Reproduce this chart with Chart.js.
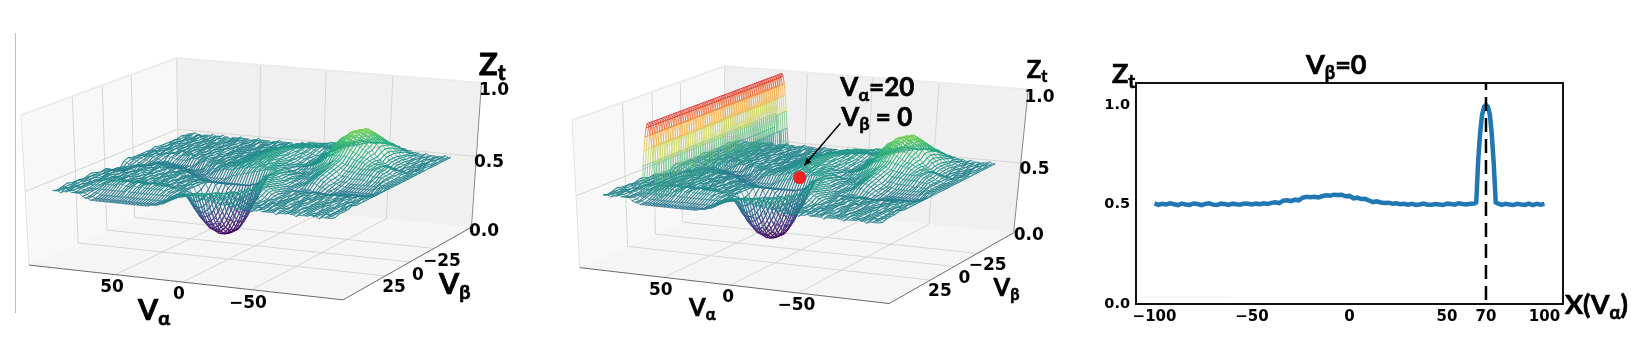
<!doctype html>
<html><head><meta charset="utf-8">
<style>html,body{margin:0;background:#fff;overflow:hidden}canvas{position:absolute;top:0}</style>
<script src="https://cdn.jsdelivr.net/npm/chart.js@4"></script>
</head><body>
<canvas id="c1" width="545" height="361" style="left:0;width:545px;height:361px"></canvas>
<canvas id="c2" width="540" height="361" style="left:545px;width:540px;height:361px"></canvas>
<canvas id="c3" width="546" height="361" style="left:1085px;width:546px;height:361px"></canvas>
<script>
// ---- data ----
const alphaGrid=[100,98,96,94,92,90,88,86,84,82,80,78,76,74,72,70,68,66,64,62,60,58,56,54,52,50,48,46,44,42,40,38,36,34,32,30,28,26,24,22,20,18,16,14,12,10,8,6,4,2,0,-2,-4,-6,-8,-10,-12,-14,-16,-18,-20,-22,-24,-26,-28,-30,-32,-34,-36,-38,-40,-42,-44,-46,-48,-50,-52,-54,-56,-58,-60,-62,-64,-66,-68,-70,-72,-74,-76,-78,-80,-82,-84,-86,-88,-90,-92,-94,-96,-98,-100];
const betaGrid=[-60,-56,-52,-48,-44,-40,-36,-32,-28,-24,-20,-16,-12,-8,-4,0,4,8,12,16,20,24,28,32,36,40,44,48,52,56,60];
const surfacePercent=[
[50,50,51,50,50,49,50,50,50,51, 50,50,50,51,50,50,49,50,50,50, 51,50,50,50,49,50,50,51,50,50, 50,50,49,50,50,51,50,50,50,50, 50,49,50,50,51,50,50,50,49,50, 50,50,51,50,50,50,49,50,50,51, 50,51,51,52,52,53,53,54,54,55, 55,55,55,56,56,56,56,55,55,55, 54,54,53,53,52,52,51,51,51,50, 50,51,50,50,50,49,50,50,51,50, 50],
[50,50,50,49,50,51,50,50,50,49, 50,50,51,50,50,50,50,49,50,50, 50,51,50,50,50,49,50,50,51,50, 50,50,50,49,50,50,51,50,50,50, 51,50,50,49,50,50,50,51,50,50, 50,50,50,51,50,50,50,51,51,52, 53,53,54,54,55,55,56,56,57,57, 57,57,57,57,57,57,57,57,57,57, 56,56,55,54,54,53,52,52,51,51, 50,51,50,50,49,50,51,50,50,50, 50],
[51,50,50,50,49,50,50,51,50,50, 50,49,50,50,51,50,50,50,49,50, 50,50,51,50,50,50,50,49,50,50, 51,50,50,50,50,49,50,50,51,50, 50,50,51,50,50,50,50,50,51,51, 52,52,53,53,54,54,55,55,56,56, 56,56,57,57,57,57,58,58,59,59, 59,60,60,61,61,61,61,61,60,60, 59,59,58,57,56,55,54,53,52,52, 51,50,51,50,50,49,50,50,51,50, 50],
[50,50,49,50,50,51,50,50,50,49, 50,50,51,50,50,49,50,50,50,51, 50,50,50,50,49,50,51,50,50,50, 50,49,50,50,51,50,50,50,50,50, 50,51,51,52,52,53,54,54,55,55, 55,56,56,56,56,56,56,56,56,55, 55,55,55,55,55,56,56,58,59,60, 62,63,64,64,65,65,65,64,64,63, 62,61,60,59,57,56,55,53,53,52, 51,51,50,50,50,49,50,51,50,50, 50],
[50,51,50,50,50,49,50,50,51,50, 50,50,49,50,50,50,51,50,50,49, 50,50,50,51,50,50,49,50,50,50, 50,50,49,50,50,51,50,50,50,51, 51,51,52,52,53,54,54,55,55,56, 56,56,56,56,56,56,55,55,54,54, 54,53,53,54,55,56,58,60,62,64, 65,66,67,67,68,68,68,67,67,66, 65,64,62,61,59,57,56,54,53,52, 51,51,50,50,49,50,50,51,50,50, 50],
[50,50,50,51,50,50,49,50,50,50, 51,50,50,50,49,50,50,50,51,50, 50,50,49,50,50,50,51,50,50,50, 50,50,50,51,50,50,50,51,51,51, 52,52,53,54,54,55,55,56,56,56, 56,56,56,56,55,55,54,54,53,52, 53,53,54,55,57,58,60,62,64,66, 67,69,70,71,71,72,72,71,70,69, 67,66,64,62,60,58,57,55,54,53, 52,51,51,50,50,49,50,50,51,50, 50],
[50,49,50,50,51,50,50,50,49,50, 50,51,50,50,50,49,50,50,50,51, 50,50,50,50,51,50,49,50,50,50, 50,50,51,50,50,50,51,51,51,52, 52,53,54,54,55,55,56,56,56,56, 56,56,55,55,54,54,53,53,52,52, 52,53,54,55,57,59,61,63,65,67, 68,70,71,71,72,72,72,72,71,70, 68,67,65,63,61,59,57,55,54,53, 52,51,51,50,50,50,49,50,50,51, 50],
[50,50,50,49,50,50,51,50,50,50, 49,50,50,51,50,50,50,50,49,50, 50,51,50,50,50,50,49,50,50,51, 50,50,50,51,50,50,50,51,51,52, 52,53,54,55,55,56,56,56,56,56, 56,56,55,55,54,54,53,52,52,51, 51,52,53,54,56,58,60,63,65,67, 68,69,71,71,72,72,72,71,71,69, 68,66,65,63,60,58,57,55,54,53, 52,51,50,51,50,50,50,49,50,50, 50],
[51,50,50,50,49,50,50,50,51,50, 50,50,49,50,50,51,50,50,50,50, 49,50,50,51,50,50,50,49,50,50, 51,50,50,50,50,50,51,51,52,52, 53,53,54,55,55,56,56,56,56,56, 56,55,55,54,54,53,53,52,52,51, 51,51,52,53,55,56,58,60,62,64, 65,67,68,69,70,70,70,69,69,67, 66,64,62,60,58,56,55,54,53,52, 51,51,50,50,50,49,50,50,51,50, 50],
[50,50,49,50,50,50,51,50,50,49, 50,50,51,50,50,50,50,49,50,50, 50,50,51,50,50,49,50,50,50,51, 50,50,50,50,51,50,50,51,51,52, 53,53,54,55,55,56,56,56,56,56, 56,55,55,54,53,53,52,51,51,50, 51,51,51,52,53,55,56,58,60,62, 63,64,65,66,67,68,68,67,66,65, 64,63,62,60,58,57,56,55,54,54, 53,53,52,52,51,51,50,50,50,50, 50],
[50,50,50,51,50,49,50,50,50,50, 51,50,50,49,50,50,50,51,50,50, 49,50,50,50,51,50,50,50,49,50, 50,51,50,50,50,50,51,51,51,52, 52,53,54,54,55,55,56,56,56,56, 56,56,55,54,53,53,52,51,51,51, 50,50,51,51,52,53,54,56,57,59, 60,61,62,63,64,65,65,64,63,62, 61,60,60,59,58,57,56,56,55,55, 55,55,54,53,52,51,51,50,50,50, 50],
[50,49,50,50,50,51,50,50,50,49, 50,49,49,48,48,48,48,48,49,50, 50,50,49,50,50,51,50,50,50,50, 50,50,50,51,50,50,50,51,51,52, 52,53,54,54,55,55,55,56,56,56, 56,56,55,55,54,53,52,52,51,51, 51,52,52,53,54,55,56,57,58,59, 60,60,61,61,61,61,61,61,60,60, 59,59,58,58,57,56,56,55,55,55, 54,54,53,52,51,51,50,50,50,50, 50],
[50,50,51,50,50,50,50,49,49,48, 47,46,46,46,46,46,46,46,46,46, 46,46,47,48,49,50,51,50,50,50, 50,50,50,50,50,51,51,51,51,52, 52,53,53,54,54,55,55,55,56,56, 56,56,56,55,55,54,54,53,52,52, 50,51,51,51,52,52,52,53,54,55, 56,57,57,58,59,59,59,58,57,57, 56,56,56,55,55,55,55,55,55,55, 54,54,53,52,51,51,50,50,50,50, 50],
[50,50,50,50,49,49,48,48,48,48, 48,47,46,45,45,45,45,45,45,45, 46,45,45,45,45,46,46,47,49,49, 50,50,51,50,50,50,51,51,51,52, 52,53,53,54,54,54,55,55,55,55, 55,56,56,55,55,55,54,54,53,52, 51,51,50,50,50,51,51,51,52,53, 54,55,56,57,58,58,58,57,56,55, 54,54,54,54,53,53,53,53,53,53, 52,52,52,52,51,51,50,50,50,50, 50],
[51,50,50,49,48,48,47,47,47,47, 48,49,50,50,51,51,50,50,49,49, 47,47,47,46,46,46,46,46,46,47, 47,48,49,49,50,50,51,51,51,52, 52,52,53,53,53,54,54,54,55,55, 55,55,55,56,55,55,55,55,54,54, 53,52,52,51,51,50,51,51,51,52, 52,53,54,55,56,57,57,56,55,53, 52,52,52,51,51,51,51,51,51,50, 50,51,50,50,50,51,50,50,50,50, 50],
[50,49,48,48,47,47,47,47,48,49, 50,50,51,50,50,50,50,49,49,50, 50,50,50,49,47,46,46,46,46,46, 46,46,47,47,48,49,50,50,51,51, 51,51,52,52,53,53,53,54,54,54, 54,55,55,55,55,55,55,55,55,54, 54,53,53,52,52,51,51,51,51,51, 51,52,53,54,55,56,56,55,54,52, 51,50,50,50,49,49,49,49,49,49, 49,49,49,49,49,50,50,50,50,50, 50],
[46,46,46,46,47,48,49,50,50,50, 50,50,49,49,50,50,51,50,50,50, 50,50,50,49,49,49,49,48,46,46, 46,46,46,46,46,46,46,46,46,46, 46,47,48,49,49,50,50,51,51,52, 52,53,53,54,54,55,55,55,55,55, 55,54,54,53,53,52,51,51,51,51, 51,51,52,53,54,55,55,54,53,52, 50,50,49,49,48,48,48,48,48,48, 48,48,48,48,48,49,49,50,50,50, 50],
[46,46,46,46,47,48,50,50,50,51, 51,50,50,50,49,50,50,51,50,50, 51,50,50,49,49,50,50,50,50,50, 49,48,46,45,45,45,45,45,45,45, 45,45,45,45,45,45,45,45,45,45, 45,45,46,46,47,48,50,51,53,54, 55,55,55,54,53,52,52,51,51,50, 50,50,51,52,53,54,54,53,52,51, 50,49,48,48,47,47,47,47,47,47, 47,47,47,47,47,47,47,48,49,49, 50],
[48,48,49,50,50,51,51,50,50,49, 49,50,50,50,50,49,50,51,50,50, 49,49,50,50,51,50,50,50,50,49, 49,49,50,49,48,47,46,46,46,46, 46,46,46,46,46,46,46,46,46,46, 46,46,46,47,47,48,49,51,52,54, 55,55,55,54,53,52,52,51,51,50, 50,50,50,51,52,52,52,51,50,50, 49,48,48,47,47,47,47,47,47,47, 47,47,47,47,47,47,48,48,48,49, 50],
[50,50,49,50,50,51,50,50,50,49, 50,50,50,51,50,50,49,50,50,51, 50,50,50,50,49,50,50,50,51,50, 50,50,49,50,50,49,50,50,50,49, 48,48,48,48,48,47,45,43,41,39, 38,39,40,41,42,44,47,50,52,55, 56,56,55,55,54,53,52,51,50,50, 50,50,50,49,49,49,49,48,48,48, 48,47,47,47,47,47,47,47,47,47, 47,48,48,48,48,48,48,48,49,49, 50],
[49,50,50,50,51,50,50,49,50,50, 50,51,50,50,50,49,50,50,51,50, 50,50,49,50,50,51,50,50,50,49, 50,50,51,50,50,50,49,50,50,50, 50,50,50,48,44,41,39,36,35,33, 32,32,31,32,33,35,38,40,44,46, 50,54,56,55,55,54,53,52,51,50, 50,50,49,49,49,49,49,49,49,49, 49,49,49,49,48,49,49,49,49,50, 50,50,50,50,49,50,50,50,50,50, 50],
[50,50,49,50,50,50,51,50,50,49, 50,50,50,51,50,50,50,49,50,50, 51,50,50,50,50,49,50,50,51,50, 50,50,49,50,50,50,50,51,50,50, 50,50,46,42,38,36,33,31,29,27, 27,26,26,26,27,28,31,34,37,41, 43,48,52,56,55,55,54,53,52,51, 50,50,50,51,50,50,49,50,50,50, 51,50,50,50,49,50,50,50,51,50, 50,49,50,50,50,50,51,50,50,50, 50],
[51,50,50,50,49,50,50,51,50,50, 50,49,50,50,51,50,50,50,49,50, 50,50,51,50,50,50,49,50,50,50, 51,50,50,50,50,49,50,50,50,51, 50,47,42,38,35,32,29,27,25,24, 23,22,22,22,23,24,26,29,32,36, 40,43,48,53,56,55,55,54,53,52, 51,50,50,50,49,50,50,51,50,50, 50,50,49,50,50,50,51,50,50,49, 50,50,50,51,50,50,49,50,50,51, 50],
[50,50,51,50,50,49,50,50,50,51, 51,51,52,51,51,50,50,50,51,50, 50,50,50,50,49,50,50,50,51,50, 50,50,50,49,50,50,50,50,51,50, 50,46,41,37,34,31,28,26,24,23, 22,21,21,21,22,23,24,27,30,34, 38,42,46,52,56,56,55,55,54,53, 52,51,50,50,50,50,49,50,50,51, 50,50,50,49,50,50,50,51,50,50, 49,50,50,50,51,50,50,50,50,50, 50],
[49,50,50,50,51,50,50,50,50,51, 51,51,51,51,52,52,51,51,52,51, 51,51,51,52,51,51,51,52,51,51, 52,51,51,51,50,50,50,50,50,50, 50,47,42,38,35,32,29,27,25,24, 23,22,22,22,23,24,25,28,31,35, 39,43,47,53,56,56,55,55,54,53, 52,51,50,50,50,49,50,50,50,50, 49,50,50,51,50,50,49,50,50,50, 50,50,51,50,50,50,50,51,50,50, 50],
[50,51,50,50,49,50,50,51,51,51, 50,51,51,52,52,52,52,53,53,53, 52,52,53,53,52,52,52,53,53,52, 52,52,52,52,52,51,51,50,50,50, 50,50,46,42,38,36,33,31,29,27, 27,26,26,26,27,28,31,34,37,41, 43,48,52,56,55,55,54,53,52,51, 50,50,50,50,49,50,50,50,50,51, 50,50,50,51,50,50,49,50,50,50, 50,51,50,50,49,50,50,50,50,51, 51],
[50,50,50,49,50,50,50,50,50,50, 50,50,51,51,51,51,51,52,52,52, 51,51,51,52,51,51,52,51,51,51, 51,51,51,51,50,51,50,50,50,49, 50,50,50,48,44,41,39,36,35,33, 32,32,31,32,32,35,38,40,44,46, 50,54,56,55,55,54,53,52,51,50, 50,50,51,50,50,49,50,50,50,51, 50,50,50,50,51,50,49,50,50,50, 50,50,51,50,50,50,50,49,50,50, 50],
[51,50,50,50,50,49,50,50,49,49, 49,49,49,49,49,49,49,49,49,49, 49,49,50,49,49,49,49,49,49,49, 49,49,49,49,49,49,49,49,49,49, 50,50,50,50,50,49,47,45,43,41, 40,40,40,41,42,44,47,50,52,55, 56,56,55,55,54,53,52,51,50,50, 50,49,50,50,50,51,50,50,50,50, 50,49,50,50,50,51,50,50,50,50, 50,50,49,50,50,50,50,49,50,50, 50],
[50,50,49,50,50,51,50,50,49,49, 49,49,48,48,47,47,47,47,47,47, 47,47,47,47,47,47,47,47,47,47, 47,47,47,47,47,47,47,47,47,48, 49,50,50,51,51,52,52,53,53,53, 53,53,54,54,55,55,56,56,56,56, 56,55,55,54,53,53,52,51,51,50, 50,50,50,49,50,50,50,51,50,50, 50,50,50,49,50,50,50,51,50,50, 50,50,49,50,50,50,50,49,50,50, 50],
[49,50,50,51,50,50,50,49,49,49, 49,48,47,47,46,46,46,46,46,46, 46,46,46,46,46,46,46,46,46,46, 46,46,46,46,46,46,46,47,47,47, 48,49,50,51,52,53,54,54,55,55, 55,56,56,56,56,56,55,55,55,55, 54,54,53,52,52,51,51,50,50,50, 50,50,50,51,50,50,49,50,50,50, 51,50,50,50,49,50,50,50,50,51, 50,50,50,49,50,50,50,51,50,50, 49],
[50,50,50,49,50,50,51,50,50,50, 50,48,47,47,46,46,46,46,46,46, 46,46,46,46,46,46,46,46,46,46, 46,46,46,46,46,46,47,47,47,48, 50,51,52,53,54,55,55,56,56,56, 56,56,55,55,54,54,54,53,53,53, 53,52,52,52,52,51,51,50,50,50, 50,50,49,50,50,51,50,50,50,50, 50,49,50,50,50,51,50,50,49,50, 50,50,50,51,50,50,49,50,50,50, 50]
];
const ridgeAlpha=[71,70,69,68,67,66,65,64,63,62,61,60,59];
const ridgeHeight=[0.51,0.62,0.72,0.82,0.91,0.97,1.0,0.98,0.93,0.85,0.74,0.62,0.51];
const ridgeBeta=[-60,-58,-56,-54,-52,-50,-48,-46,-44,-42,-40,-38,-36,-34,-32,-30,-28,-26,-24,-22,-20,-18,-16,-14,-12,-10,-8,-6,-4,-2,0,2,4,6,8,10,12,14,16,18,20,22,24,26,28,30,32,34,36,38,40,42,44,46,48,50,52,54,56,58,60];
const sliceAlpha=[-100,-98,-96,-94,-92,-90,-88,-86,-84,-82,-80,-78,-76,-74,-72,-70,-68,-66,-64,-62,-60,-58,-56,-54,-52,-50,-48,-46,-44,-42,-40,-38,-36,-34,-32,-30,-28,-26,-24,-22,-20,-18,-16,-14,-12,-10,-8,-6,-4,-2,0,2,4,6,8,10,12,14,16,18,20,22,24,26,28,30,32,34,36,38,40,42,44,46,48,50,52,54,56,58,60,62,64,65,66,67,68,69,70,71,72,73,74,75,76,78,80,82,84,86,88,90,92,94,96,98,100];
const sliceZ=[0.505,0.498,0.503,0.5,0.506,0.501,0.497,0.504,0.5,0.498,0.505,0.502,0.497,0.503,0.506,0.499,0.497,0.504,0.502,0.498,0.504,0.501,0.499,0.505,0.503,0.5,0.504,0.501,0.506,0.502,0.508,0.511,0.507,0.519,0.521,0.517,0.524,0.521,0.534,0.538,0.536,0.539,0.535,0.541,0.546,0.544,0.549,0.547,0.549,0.541,0.543,0.531,0.534,0.527,0.528,0.52,0.512,0.516,0.51,0.507,0.509,0.504,0.506,0.501,0.503,0.499,0.503,0.498,0.5,0.504,0.499,0.498,0.502,0.5,0.497,0.504,0.502,0.499,0.506,0.502,0.5,0.503,0.505,0.51,0.72,0.86,0.95,0.99,1.0,0.99,0.95,0.85,0.7,0.51,0.505,0.498,0.503,0.5,0.497,0.503,0.5,0.498,0.504,0.497,0.503,0.499,0.503];
const alphaTicks3d=[50,0,-50];
const betaTicks3d=[-25,0,25];
const zTicks3d=[0,0.5,1];
const sliceXTicks=[-100,-50,0,50,70,100];
const sliceYTicks=[0,0.5,1];
const markerPoint={alpha:4,beta:-2,z:0.5};
// ---- camera calibration and styles ----
const boxA=115, boxB=66;
const panel1={xMin:0,xMax:545,corners:{L:[30,265],F:[343,300],R:[472,227],B:[177,198],TL:[20,115],TB:[178,58],TR:[481,83]}};
const panel2={xMin:545,xMax:1085,corners:{L:[575,271],F:[891,308],R:[1019,235],B:[721,204],TL:[565,118],TB:[724,62],TR:[1033,86]}};
const viridisStops=["#440154","#482475","#414487","#355f8d","#2a788e","#21908d","#22a884","#44bf70","#7ad151","#bddf26","#fde725"];
const spectralStops=[[0.5,"#2a8a8c"],[0.6,"#3fa890"],[0.7,"#86c98a"],[0.8,"#d8d65a"],[0.9,"#f5a742"],[1.0,"#e02f2f"]];
const hexRgb=h=>[1,3,5].map(i=>parseInt(h.substr(i,2),16));
const mix=(a,b,t)=>{a=hexRgb(a);b=hexRgb(b);return `rgb(${a.map((v,i)=>Math.round(v+(b[i]-v)*t)).join(",")})`};
function viridis(z){const f=Math.min(1,Math.max(0,(z-0.21)/0.64))*10,i=Math.min(9,Math.floor(f));return mix(viridisStops[i],viridisStops[i+1],f-i)}
function spectral(z){if(z<=0.5)return spectralStops[0][1];for(let i=1;i<spectralStops.length;i++){if(z<=spectralStops[i][0]){const a=spectralStops[i-1],b=spectralStops[i];return mix(a[1],b[1],(z-a[0])/(b[0]-a[0]))}}return spectralStops[5][1]}

function makeProjector(c){
  const cube={L:[1,1,0],F:[-1,1,0],R:[-1,-1,0],B:[1,-1,0],TL:[1,1,1],TB:[1,-1,1],TR:[-1,-1,1]};
  const A=[],b=[];
  for(const k in cube){const [X,Y,Z]=cube[k],u=(c[k][0]-250)/300,v=(c[k][1]-180)/300;
    A.push([X,Y,Z,1,0,0,0,0,-u*X,-u*Y,-u*Z]);b.push(u);
    A.push([0,0,0,0,X,Y,Z,1,-v*X,-v*Y,-v*Z]);b.push(v);}
  const n=11,M=[];
  for(let i=0;i<n;i++){M[i]=[];for(let j=0;j<n;j++){let s=0;for(let r=0;r<A.length;r++)s+=A[r][i]*A[r][j];M[i][j]=s}let s=0;for(let r=0;r<A.length;r++)s+=A[r][i]*b[r];M[i][n]=s}
  for(let i=0;i<n;i++){let p=i;for(let r=i+1;r<n;r++)if(Math.abs(M[r][i])>Math.abs(M[p][i]))p=r;[M[i],M[p]]=[M[p],M[i]];
    for(let r=0;r<n;r++)if(r!==i){const f=M[r][i]/M[i][i];for(let j=i;j<=n;j++)M[r][j]-=f*M[i][j]}}
  const p=M.map((r,i)=>r[n]/r[i]);
  return (a,be,z)=>{const X=a/boxA,Y=be/boxB,Z=z,w=p[8]*X+p[9]*Y+p[10]*Z+1;
    return {x:250+300*(p[0]*X+p[1]*Y+p[2]*Z+p[3])/w,y:180+300*(p[4]*X+p[5]*Y+p[6]*Z+p[7])/w}};
}
const font3d='bold 17px "DejaVu Sans"';
const LATO='Lato, "Noto Sans", sans-serif';
function rich(ctx,x,y,parts,size){
  ctx.textAlign='left';ctx.textBaseline='alphabetic';ctx.fillStyle='#000';ctx.strokeStyle='#000';ctx.lineWidth=size*0.025;
  for(const [t,sub] of parts){const s=sub?size*0.68:size;ctx.font=`bold ${s}px ${LATO}`;const Y=y+(sub?size*0.17:0);ctx.fillText(t,x,Y);ctx.strokeText(t,x,Y);x+=ctx.measureText(t).width}
}
function panelPlugin(project,labels,richLabels,extra){return{id:'panel',
  beforeDatasetsDraw(ch){const g=ch.ctx,sx=ch.scales.x,sy=ch.scales.y;
    const poly=(pts,col)=>{g.beginPath();pts.forEach((q,i)=>{const r=project(...q),X=sx.getPixelForValue(r.x),Y=sy.getPixelForValue(r.y);i?g.lineTo(X,Y):g.moveTo(X,Y)});g.closePath();g.fillStyle=col;g.fill()};
    poly([[boxA,boxB,0],[-boxA,boxB,0],[-boxA,-boxB,0],[boxA,-boxB,0]],'#f5f5f5');
    poly([[boxA,boxB,0],[boxA,-boxB,0],[boxA,-boxB,1],[boxA,boxB,1]],'#f8f8f8');
    poly([[boxA,-boxB,0],[-boxA,-boxB,0],[-boxA,-boxB,1],[boxA,-boxB,1]],'#f0f0f0');
  },
  afterDatasetsDraw(ch){const g=ch.ctx,sx=ch.scales.x,sy=ch.scales.y;g.save();
    g.font=font3d;g.fillStyle='#000';g.textAlign='center';g.textBaseline='middle';
    for(const [t,x,y] of labels)g.fillText(t,sx.getPixelForValue(x),sy.getPixelForValue(y));
    for(const [parts,x,y,s] of richLabels)rich(g,sx.getPixelForValue(x),sy.getPixelForValue(y),parts,s);
    if(extra)extra(g,sx,sy);g.restore();
  }}}
function buildPanel(project,withRidge){
  const ds=[];const line=(pts,col,w)=>ds.push({data:pts,borderColor:col,borderWidth:w,showLine:true,pointRadius:0,clip:false});
  const seg=(pts,colorFn,w)=>{const zs=pts.map(q=>q.z);ds.push({data:pts,borderColor:'#26828e',borderWidth:w,showLine:true,pointRadius:0,clip:false,
    segment:{borderColor:c=>colorFn((zs[c.p0DataIndex]+zs[c.p1DataIndex])/2)}})};
  const P=(a,b,z)=>project(a,b,z);
  const G='#d6d6d6',E='#ececec';
  for(const a of alphaTicks3d){line([P(a,-boxB,0),P(a,boxB,0)],G,1);line([P(a,-boxB,0),P(a,-boxB,1)],G,1)}
  for(const b of betaTicks3d){line([P(-boxA,b,0),P(boxA,b,0)],G,1);line([P(boxA,b,0),P(boxA,b,1)],G,1)}
  line([P(boxA,boxB,0.5),P(boxA,-boxB,0.5),P(-boxA,-boxB,0.5)],G,1);
  line([P(boxA,boxB,1),P(boxA,-boxB,1),P(-boxA,-boxB,1)],E,2);
  line([P(boxA,boxB,0),P(boxA,boxB,1)],'#e2e2e2',1);
  line([P(boxA,-boxB,0),P(boxA,-boxB,1)],'#d8d8d8',1);
  line([P(boxA,boxB,0),P(-boxA,boxB,0),P(-boxA,-boxB,0)],'#6a6a6a',1);
  line([P(-boxA,-boxB,0),P(-boxA,-boxB,1)],'#8a8a8a',1);
  for(const row of betaGrid.keys())seg(alphaGrid.map((a,c)=>({...P(a,betaGrid[row],surfacePercent[row][c]/100),z:surfacePercent[row][c]/100})),viridis,0.7);
  for(const c of alphaGrid.keys())seg(betaGrid.map((b,row)=>({...P(alphaGrid[c],b,surfacePercent[row][c]/100),z:surfacePercent[row][c]/100})),viridis,1.05);
  if(withRidge){
    for(const b of ridgeBeta)seg(ridgeAlpha.map((a,i)=>({...P(a,b,ridgeHeight[i]),z:ridgeHeight[i]})),spectral,0.8);
    for(const i of ridgeAlpha.keys())seg(ridgeBeta.map(b=>({...P(ridgeAlpha[i],b,ridgeHeight[i]),z:ridgeHeight[i]})),spectral,0.9);
    ds.push({data:[P(markerPoint.alpha,markerPoint.beta,markerPoint.z)],pointRadius:6.5,pointBackgroundColor:'#ee2222',pointBorderWidth:0,showLine:false,clip:false});
  }
  return ds.reverse();
}
function chart3d(id,pan,withRidge,labels,richLabels,extra){
  const project=makeProjector(pan.corners);
  new Chart(document.getElementById(id),{type:'scatter',
    data:{datasets:buildPanel(project,withRidge)},
    options:{responsive:false,animation:false,events:[],layout:{padding:0},
      plugins:{legend:{display:false},tooltip:{enabled:false},title:{display:false}},
      scales:{x:{type:'linear',display:false,min:pan.xMin,max:pan.xMax},y:{type:'linear',display:false,min:0,max:361,reverse:true}}},
    plugins:[panelPlugin(project,labels,richLabels,extra)]});
}
chart3d('c1',panel1,false,
  [['50',112,288],['0',179,295],['−50',248,304],['−25',442,262],['0',418,276],['25',394,288],['1.0',494,91],['0.5',489,163],['0.0',484,232]],
  [[[['V'],['α',1]],138,320,29],[[['V'],['β',1]],439,294,29],[[['Z'],['t',1]],479,75,31]],
  (g,sx,sy)=>{g.strokeStyle='#bdbdbd';g.lineWidth=1;g.beginPath();g.moveTo(sx.getPixelForValue(15.5),sy.getPixelForValue(33));g.lineTo(sx.getPixelForValue(15.5),sy.getPixelForValue(313));g.stroke()});
chart3d('c2',panel2,true,
  [['50',657,295],['0',726,302],['−50',796,310],['−25',992,269],['0',968,282],['25',943,296],['1.0',1045,94],['0.5',1040,169],['0.0',1034,238]],
  [[[['V'],['α',1]],686,321,24],[[['V'],['β',1]],998,300,24],[[['Z'],['t',1]],1032,74,24],
   [[['V'],['α',1],['=20']],841,93,26],[[['V'],['β',1],[' = 0']],842,124,26]],
  (g,sx,sy)=>{const x0=sx.getPixelForValue(841),y0=sy.getPixelForValue(121),x1=sx.getPixelForValue(804),y1=sy.getPixelForValue(165);
    const an=Math.atan2(y1-y0,x1-x0);g.strokeStyle='#000';g.fillStyle='#000';g.lineWidth=1.5;g.beginPath();g.moveTo(x0,y0);g.lineTo(x1,y1);g.stroke();
    g.beginPath();g.moveTo(x1,y1);g.lineTo(x1-8*Math.cos(an-0.4),y1-8*Math.sin(an-0.4));g.lineTo(x1-8*Math.cos(an+0.4),y1-8*Math.sin(an+0.4));g.closePath();g.fill()});
new Chart(document.getElementById('c3'),{type:'scatter',
  data:{datasets:[
    {data:[{x:70,y:0.02},{x:70,y:1.11}],borderColor:'#000',borderWidth:2.5,borderDash:[14,7],showLine:true,pointRadius:0,clip:false},
    {data:sliceAlpha.map((x,i)=>({x,y:sliceZ[i]})),borderColor:'#1f77b4',borderWidth:4.5,showLine:true,pointRadius:0}
  ]},
  options:{responsive:false,animation:false,events:[],layout:{padding:{top:83,right:68,left:0,bottom:0}},
    plugins:{legend:{display:false},tooltip:{enabled:false},title:{display:false}},
    scales:{
      x:{type:'linear',min:-109.5,max:109.5,grid:{display:false,drawTicks:false},border:{display:false},
        afterFit(s){s.height=57},afterBuildTicks(s){s.ticks=sliceXTicks.map(value=>({value}))},
        ticks:{autoSkip:false,maxRotation:0,color:'#000',padding:4,font:{family:'DejaVu Sans',weight:'bold',size:15},callback:v=>String(v).replace('-','−')}},
      y:{type:'linear',min:0,max:1.11,grid:{display:false,drawTicks:false},border:{display:false},
        afterFit(s){s.width=51},afterBuildTicks(s){s.ticks=sliceYTicks.map(value=>({value}))},
        ticks:{autoSkip:false,color:'#000',padding:6,font:{family:'DejaVu Sans',weight:'bold',size:14.5},callback:v=>Number(v).toFixed(1)}}
    }},
  plugins:[{id:'frame',afterDatasetsDraw(ch){const g=ch.ctx,a=ch.chartArea;g.save();
    g.strokeStyle='#111';g.lineWidth=2;g.strokeRect(a.left,a.top,a.right-a.left,a.bottom-a.top);
    g.strokeStyle='#eeeeee';g.lineWidth=1;g.beginPath();g.moveTo(a.left+8,a.bottom-7);g.lineTo(a.left+95,a.bottom-7);g.stroke();
    rich(g,27,83,[['Z'],['t',1]],27);
    rich(g,221,74,[['V'],['β',1],['=0']],27);
    rich(g,480,314,[['X(V'],['α',1],[')']],27);
    g.restore()}}]
});
</script></body></html>
